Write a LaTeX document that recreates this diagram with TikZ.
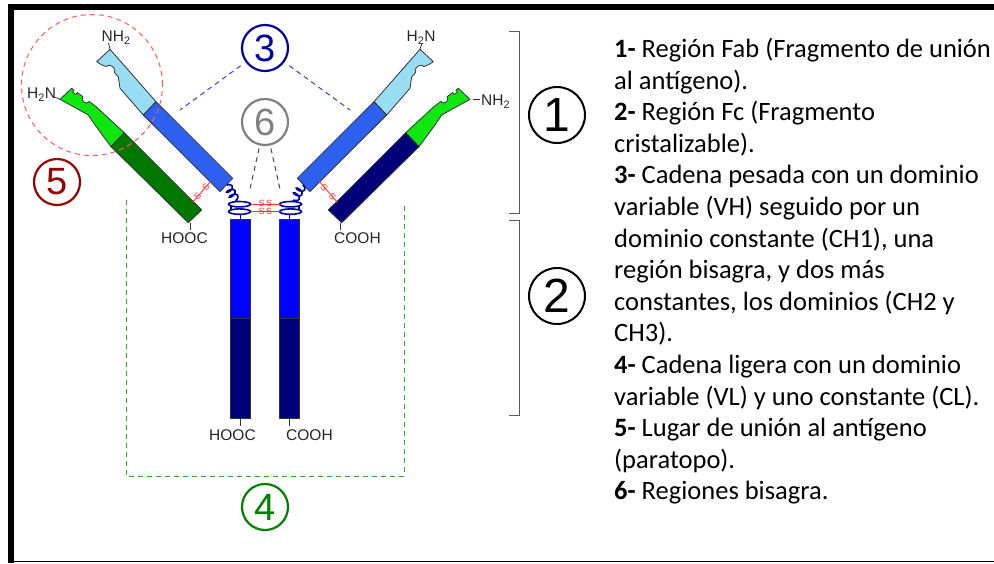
\documentclass[tikz,border=0pt]{standalone}
\usepackage{fontspec}
\setmainfont{Carlito}
\newfontfamily\chemfont{Liberation Sans}
\usetikzlibrary{decorations.pathmorphing}

\definecolor{vhblue}{RGB}{153,221,242}
\definecolor{chblue}{RGB}{46,96,240}
\definecolor{vlgreen}{RGB}{16,230,16}
\definecolor{clgreen}{RGB}{0,120,0}
\definecolor{clnavy}{RGB}{0,0,120}
\definecolor{fcblue}{RGB}{0,0,255}
\definecolor{fcnavy}{RGB}{0,0,120}
\definecolor{hingeblue}{RGB}{0,0,160}
\definecolor{ssred}{RGB}{255,50,50}
\definecolor{edge}{RGB}{50,50,50}
\definecolor{numblue}{RGB}{0,0,160}
\definecolor{numgray}{RGB}{128,128,128}
\definecolor{numred}{RGB}{150,0,0}
\definecolor{numgreen}{RGB}{0,128,0}
\definecolor{ringred}{RGB}{255,90,90}
\definecolor{boxgreen}{RGB}{50,170,50}
\definecolor{guideblue}{RGB}{60,60,220}
\definecolor{guidegray}{RGB}{70,70,70}
\definecolor{bracketgray}{RGB}{90,90,90}

\tikzset{
  chainpart/.style={draw=edge, line width=0.8pt, line join=round},
  hingeline/.style={draw=hingeblue, line width=1.6pt},
  hingecoil/.style={hingeline, decorate, decoration={coil, amplitude=4pt, segment length=5.5pt}},
  ssbond/.style={draw=ssred, line width=0.9pt},
  sslabel/.style={text=ssred, font=\chemfont\fontsize{9}{9}\selectfont, inner sep=0pt},
  chemlabel/.style={anchor=base west, font=\chemfont\fontsize{15.5}{16}\selectfont, inner sep=0pt, text=black!85},
  tickline/.style={draw=edge, line width=0.8pt},
  numring/.style={circle, draw, line width=2.2pt, inner sep=0pt, minimum size=46pt, font=\chemfont\fontsize{38}{38}\selectfont},
  bignum/.style={circle, draw, line width=2pt, inner sep=0pt, minimum size=56pt, font=\chemfont\fontsize{48}{48}\selectfont},
  legendline/.style={anchor=base west, inner sep=0pt, font=\fontsize{26.5}{30}\selectfont},
  bracketline/.style={draw=bracketgray, line width=1pt},
  guide/.style={line width=1pt, dash pattern=on 5pt off 4pt},
}

% one heavy chain with its light chain; #1 = fill of the light constant domain
\newcommand\antibodyhalf[1]{%
  % heavy chain: variable and first constant domain
  \filldraw[chainpart, fill=vhblue] (110,49.3) -- (156,101.7) -- (143.3,115) -- (120,88.3) -- (118.3,77) -- (114.5,72.5) .. controls (117.4,68.4) and (108.9,62.4) .. (106,66.5) -- (101,64.5) -- (96.7,61.7) -- cycle;
  \filldraw[chainpart, fill=chblue] (143.3,115) -- (156,101.7) -- (232.7,178.3) -- (220,191.6) -- cycle;
  % light chain: variable and constant domain
  \filldraw[chainpart, fill=vlgreen] (60,99.3) -- (71.7,88.3) -- (74.1,90.1) -- (72.6,92.1) -- (75.8,94.5) -- (77.3,92.5) -- (82.9,96.7) .. controls (79.9,100.7) and (86.3,105.5) .. (89.3,101.5) -- (95.7,106.3) -- (124.3,132.7) -- (111,146.7) -- (95,125) -- (88.3,115) -- cycle;
  \filldraw[chainpart, fill=#1] (111,146.7) -- (124.3,132.7) -- (201.7,210) -- (188.3,222.7) -- cycle;
  % hinge: coiled segment and two flat turns
  \draw[hingecoil] (227,185) -- (236.5,201);
  \draw[hingeline] (236.5,201) -- (238,201.5);
  \draw[hingeline] (239.5,204.2) ellipse[x radius=11pt, y radius=2.7pt];
  \draw[hingeline] (239.5,211.6) ellipse[x radius=11pt, y radius=2.7pt];
  \draw[hingeline] (231,205.5) -- (231,210.3);
  \draw[hingeline] (240.5,214.3) -- (240.5,219);
  % Fc part of the heavy chain
  \filldraw[chainpart, fill=fcblue] (230.5,219) rectangle (250.5,318);
  \filldraw[chainpart, fill=fcnavy] (230.5,318) rectangle (250.5,418);
  % disulfide bond inside the arm
  \draw[ssbond] (192.5,202.5) -- (211,181);
}

\begin{document}
\begin{tikzpicture}[x=1pt,y=-1pt]
\useasboundingbox (0,0) rectangle (994,563);

% frame
\fill[black] (8,4) rectangle (994,10);
\fill[black] (8,4) rectangle (14,563);
\draw[line width=1.2pt] (14,561.5) -- (994,561.5);

% the two halves of the antibody
\antibodyhalf{clgreen}
\begin{scope}[xshift=530pt, xscale=-1]
  \antibodyhalf{clnavy}
\end{scope}

% disulfide labels in the arms
\node[sslabel, rotate=48] (ssl) at (201.7,191.8) {S\hspace{6pt}S};
\node[sslabel, rotate=-48] (ssr) at (328.3,191.8) {S\hspace{6pt}S};

% disulfide bonds between the hinges
\draw[ssbond] (250.5,204.2) -- (279.5,204.2);
\draw[ssbond] (250.5,211.6) -- (279.5,211.6);
\node[sslabel] (sshtop) at (265.3,203.4) {S\hspace{1.5pt}S};
\node[sslabel] (sshbot) at (265.3,211.4) {S\hspace{1.5pt}S};

% terminal groups
\node[chemlabel] (nA) at (101.5,41.5) {NH\textsubscript{2}};
\node[chemlabel] (nB) at (27,98.5) {H\textsubscript{2}N};
\node[chemlabel] (nC) at (406.5,41.5) {H\textsubscript{2}N};
\node[chemlabel] (nD) at (481,105.5) {NH\textsubscript{2}};
\node[chemlabel] (cA) at (161,243.7) {HOOC};
\node[chemlabel] (cB) at (334,243.7) {COOH};
\node[chemlabel] (cC) at (209,440.7) {HOOC};
\node[chemlabel] (cD) at (286,440.7) {COOH};

\draw[tickline] (108.5,43) -- (110,49.3);
\draw[tickline] (54.5,97) -- (60,99.3);
\draw[tickline] (422,43) -- (420,49.3);
\draw[tickline] (472.7,99.3) -- (479.5,99.3);
\draw[tickline] (190,222.5) -- (190,230);
\draw[tickline] (340,222.5) -- (340,230);
\draw[tickline] (240.5,418) -- (240.5,426);
\draw[tickline] (289.5,418) -- (289.5,426);

% numbered markers
\node[numring, draw=numblue, text=numblue] (n3) at (265,48) {3};
\node[numring, draw=numgray, text=numgray] (n6) at (265,122) {6};
\node[numring, draw=numred, text=numred] (n5) at (57,182) {5};
\node[numring, draw=numgreen, text=numgreen] (n4) at (265,507) {4};
\node[bignum] (n1) at (557,115) {1};
\node[bignum] (n2) at (557,296) {2};

% guides
\coordinate (armL) at (180,110);
\coordinate (armR) at (350,110);
\coordinate (hingeL) at (250,189);
\coordinate (hingeR) at (280,189);
\draw[guide, guideblue, shorten <=6pt] (n3) -- (armL);
\draw[guide, guideblue, shorten <=6pt] (n3) -- (armR);
\draw[guide, guidegray, shorten <=3pt] (n6) -- (hingeL);
\draw[guide, guidegray, shorten <=3pt] (n6) -- (hingeR);
\draw[guide, ringred] (92,85) circle[radius=70.5pt];
\draw[guide, boxgreen] (126,200) -- (126,476) -- (404,476) -- (404,204);

% region brackets
\draw[bracketline] (509,31) -- (519,31) -- (519,213) -- (509,213);
\draw[bracketline] (509,220) -- (519,220) -- (519,415) -- (509,415);

% legend
\foreach \t [count=\i from 0] in {
  {\textbf{1-} Región Fab (Fragmento de unión},
  {al antígeno).},
  {\textbf{2-} Región Fc (Fragmento},
  {cristalizable).},
  {\textbf{3-} Cadena pesada con un dominio},
  {variable (VH) seguido por un},
  {dominio constante (CH1), una},
  {región bisagra, y dos más},
  {constantes, los dominios (CH2 y},
  {CH3).},
  {\textbf{4-} Cadena ligera con un dominio},
  {variable (VL) y uno constante (CL).},
  {\textbf{5-} Lugar de unión al antígeno},
  {(paratopo).},
  {\textbf{6-} Regiones bisagra.}}
  \node[legendline] (leg\i) at (614,{57.5+31.6*\i}) {\t};
\end{tikzpicture}
\end{document}
